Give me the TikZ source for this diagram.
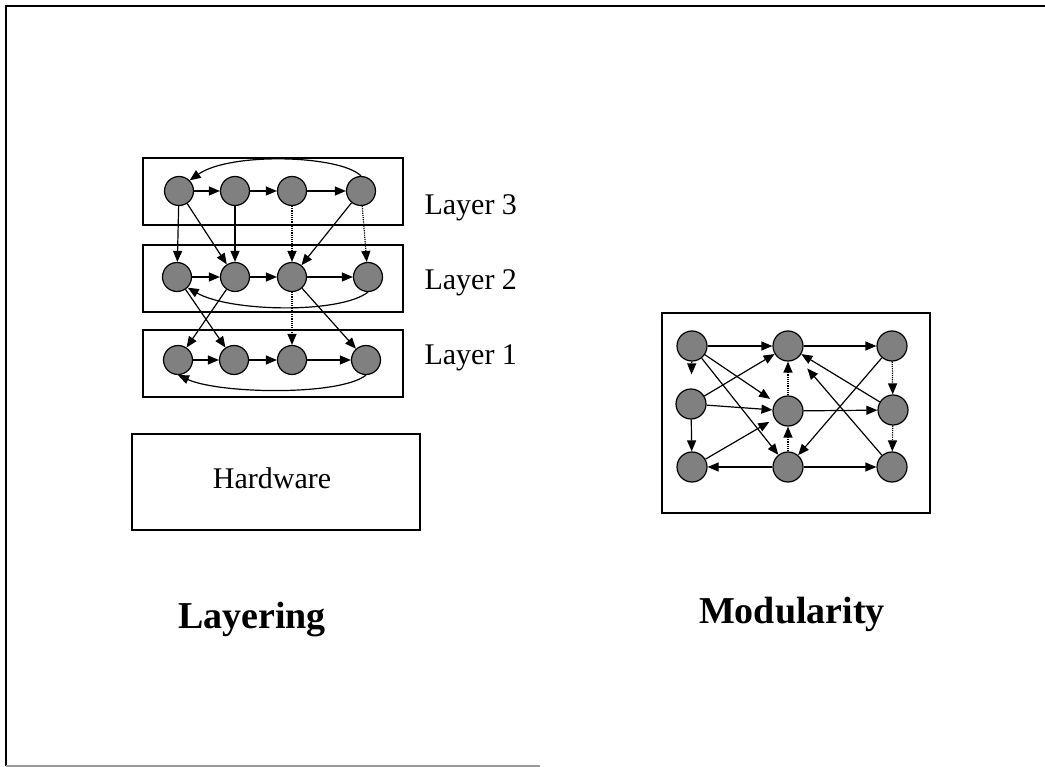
\documentclass[tikz,border=0pt]{standalone}
\usepackage{fontspec}
\setmainfont{Liberation Serif}
\usetikzlibrary{arrows.meta,shapes,positioning}

\tikzset{
  vtx/.style={circle,draw,line width=1.2pt,fill=black!50,minimum size=29pt,inner sep=0pt},
  mvtx/.style={vtx,minimum size=30pt},
  frame/.style={draw,line width=1.6pt},
  edge/.style={->,line width=1.2pt},
  dots/.style={edge,densely dotted},
  lbl/.style={font=\fontsize{30}{32}\selectfont},
  ttl/.style={font=\fontsize{38}{40}\selectfont\bfseries}
}

\begin{document}
\begin{tikzpicture}[x=1pt,y=-1pt,>={Triangle[length=11pt,width=9pt]}]
\useasboundingbox (0,0) rectangle (1045,767);
\draw[line width=2pt] (1045,6) -- (6,6) -- (6,766);
\draw[line width=1.5pt,black!40] (6,766) -- (540,766);
\draw[frame] (143,158) rectangle (403,225);
\draw[frame] (143,245) rectangle (403,312);
\draw[frame] (143,330) rectangle (403,397);
\draw[frame] (132,434) rectangle (420,530);
\draw[frame] (662,313) rectangle (930,513);
\node[vtx] (A) at (179,191) {};
\node[vtx] (B) at (235,191) {};
\node[vtx] (C) at (292,191) {};
\node[vtx] (D) at (361,191) {};
\node[vtx] (E) at (177,277) {};
\node[vtx] (F) at (235,277) {};
\node[vtx] (G) at (292,277) {};
\node[vtx] (H) at (368,277) {};
\node[vtx] (I) at (178,360) {};
\node[vtx] (J) at (234,360) {};
\node[vtx] (K) at (292,360) {};
\node[vtx] (L) at (366,360) {};
\node[lbl,anchor=base west] (l3) at (421,215) {Layer 3};
\node[lbl,anchor=base west] (l2) at (421,290) {Layer 2};
\node[lbl,anchor=base west] (l1) at (421,365) {Layer 1};
\node[lbl,anchor=base] (hw) at (272,488) {Hardware};
\node[ttl,anchor=base] (lay) at (252,628) {Layering};
\node[mvtx] (M) at (692,346) {};
\node[mvtx] (N) at (788,346) {};
\node[mvtx] (O) at (892,346) {};
\node[mvtx] (P) at (691,404) {};
\node[mvtx] (Q) at (788,411) {};
\node[mvtx] (R) at (893,410) {};
\node[mvtx] (S) at (692,467) {};
\node[mvtx] (T) at (788,467) {};
\node[mvtx] (U) at (892,467) {};
\node[ttl,anchor=base] (mod) at (792,623) {Modularity};
\draw[edge] (A) -- (B);
\draw[edge] (B) -- (C);
\draw[edge] (C) -- (D);
\draw[edge] (D.north) .. controls (340,155) and (230,152) .. (A.north east);
\draw[edge] (E) -- (F);
\draw[edge] (F) -- (G);
\draw[edge] (G) -- (H);
\draw[edge] (H.south) .. controls (340,314) and (230,312) .. (E.south east);
\draw[edge] (I) -- (J);
\draw[edge] (J) -- (K);
\draw[edge] (K) -- (L);
\draw[edge] (L.south) .. controls (340,396) and (220,394) .. (I.south);
\draw[edge] (A) -- (E);
\draw[edge] (A) -- (F);
\draw[edge] (B) -- (F);
\draw[dots] (C) -- (G);
\draw[edge] (D) -- (G);
\draw[dots] (D) -- (H);
\draw[edge] (E) -- (J);
\draw[edge] (F) -- (I);
\draw[dots] (G) -- (K);
\draw[edge] (G) -- (L);
\draw[edge] (M) -- (N);
\draw[edge] (N) -- (O);
\draw[dots,shorten >=14pt] (M) -- (P);
\draw[edge,shorten >=6pt] (M) -- (Q);
\draw[edge] (M) -- (T);
\draw[edge] (P) -- (N);
\draw[edge] (P) -- (Q);
\draw[edge] (P) -- (S);
\draw[edge,shorten >=6pt] (S) -- (Q);
\draw[edge] (T) -- (S);
\draw[edge] (T) -- (U);
\draw[dots] (T) -- (Q);
\draw[dots] (Q) -- (N);
\draw[edge] (Q) -- (R);
\draw[dots] (O) -- (R);
\draw[dots] (R) -- (U);
\draw[edge] (O) -- (T);
\draw[edge] (R) -- (N);
\draw[edge,shorten >=14pt] (U) -- (N);
\end{tikzpicture}
\end{document}
